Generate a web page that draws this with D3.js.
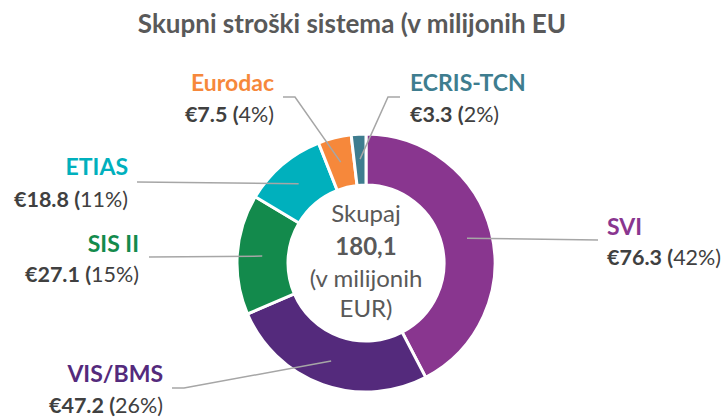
<!DOCTYPE html>
<html><head><meta charset="utf-8">
<script src="https://cdn.jsdelivr.net/npm/d3@7"></script>
<style>body{margin:0;background:#fff}svg{display:block}</style>
</head><body><svg id="c" width="725" height="417"></svg>
<script>
// ---- data ----
const categories = ["SVI", "VIS/BMS", "SIS II", "ETIAS", "Eurodac", "ECRIS-TCN"];
const values = [76.3, 47.2, 27.1, 18.8, 7.5, 3.3];
const percents = ["42%", "26%", "15%", "11%", "4%", "2%"];
const valueLabels = ["€76.3", "€47.2", "€27.1", "€18.8", "€7.5", "€3.3"];
const titleText = "Skupni stroški sistema (v milijonih EU";
const centerLines = ["Skupaj", "180,1", "(v milijonih", "EUR)"];

// ---- styles / layout ----
const colors = ["#89368F", "#542A7C", "#138A4C", "#00B0BD", "#F6883B", "#3E7D8F"];
const FONT = "Lato, 'Open Sans', sans-serif";
const cx = 366, cy = 263, rOut = 129, rIn = 78;
const layout = [
  {x: 607, y: 235, dy: 30, anchor: "start", line: [[598, 240]]},
  {x: 163, y: 382, dy: 31, anchor: "end", line: [[172, 388], [184, 388]]},
  {x: 139, y: 252, dy: 30, anchor: "end", line: [[149, 257]]},
  {x: 128, y: 175, dy: 32, anchor: "end", line: [[137, 182]]},
  {x: 274, y: 91, dy: 31, anchor: "end", line: [[283, 97], [295, 97]]},
  {x: 410, y: 91, dy: 31, anchor: "start", line: [[400, 97], [388, 97]]}
];

const svg = d3.select("#c");
svg.append("text").attr("x", 352).attr("y", 33).attr("text-anchor", "middle")
  .attr("font-family", FONT).attr("font-weight", 700).attr("font-size", 26)
  .attr("fill", "#595959").text(titleText);

const pie = d3.pie().sort(null).value(d => d)(values);
const arc = d3.arc().innerRadius(rIn).outerRadius(rOut);
const g = svg.append("g").attr("transform", `translate(${cx},${cy})`);
g.selectAll("path").data(pie).join("path")
  .attr("d", arc).attr("fill", (d, i) => colors[i])
  .attr("stroke", "#fff").attr("stroke-width", 3);

const lineArc = d3.arc().innerRadius(104).outerRadius(104);
pie.forEach((d, i) => {
  const c = lineArc.centroid(d);
  const pts = layout[i].line.concat([[c[0] + cx, c[1] + cy]]);
  svg.append("path").attr("d", d3.line()(pts)).attr("fill", "none")
    .attr("stroke", "#A6A6A6").attr("stroke-width", 1.5);
});

categories.forEach((name, i) => {
  const L = layout[i];
  svg.append("text").attr("x", L.x).attr("y", L.y).attr("text-anchor", L.anchor)
    .attr("font-family", FONT).attr("font-weight", 700).attr("font-size", 23)
    .attr("fill", colors[i]).text(name);
  const t = svg.append("text").attr("x", L.x).attr("y", L.y + L.dy).attr("text-anchor", L.anchor)
    .attr("font-family", FONT).attr("font-size", 21.5).attr("fill", "#404040");
  t.append("tspan").attr("font-weight", 700).text(valueLabels[i] + " (");
  t.append("tspan").text(percents[i] + ")");
});

const cyLines = [222, 255, 287, 317];
centerLines.forEach((s, i) => {
  svg.append("text").attr("x", cx).attr("y", cyLines[i]).attr("text-anchor", "middle")
    .attr("font-family", FONT).attr("font-size", 24).attr("font-weight", i === 1 ? 700 : 400)
    .attr("fill", "#595959").text(s);
});
</script></body></html>
